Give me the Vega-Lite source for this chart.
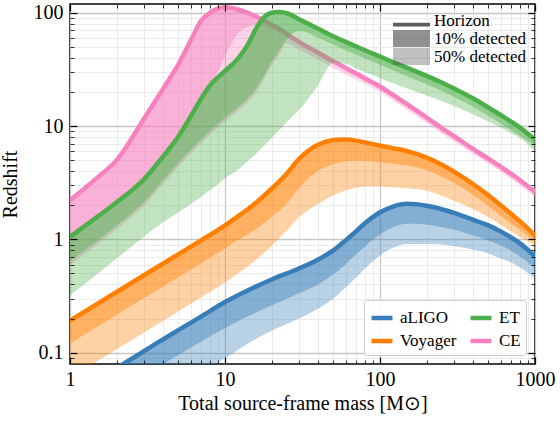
{
  "$schema": "https://vega.github.io/schema/vega-lite/v6.json",
  "width": 465,
  "height": 360,
  "autosize": {"type": "none"},
  "padding": {"left": 70, "top": 4, "right": 25, "bottom": 58},
  "background": "white",
  "config": {
    "font": "Liberation Serif",
    "view": {"stroke": "black", "strokeWidth": 1.6},
    "axis": {
      "domain": false,
      "labelFont": "Liberation Serif",
      "titleFont": "Liberation Serif",
      "labelColor": "black",
      "titleColor": "black",
      "labelFontSize": 20,
      "titleFontSize": 20,
      "titleFontWeight": "normal",
      "tickColor": "black",
      "labelFlush": false,
      "labelOverlap": false
    },
    "legend": {"labelFont": "Liberation Serif", "labelFontSize": 17, "labelColor": "black"}
  },
  "data": {
    "values": [
      {"detector": "aLIGO", "mass": 1, "z_horizon": 0.0461, "z_10": 0.0277, "z_50": 0.015},
      {"detector": "aLIGO", "mass": 1.5, "z_horizon": 0.0572, "z_10": 0.0344, "z_50": 0.0186},
      {"detector": "aLIGO", "mass": 2, "z_horizon": 0.0732, "z_10": 0.044, "z_50": 0.0239},
      {"detector": "aLIGO", "mass": 3, "z_horizon": 0.1031, "z_10": 0.062, "z_50": 0.0336},
      {"detector": "aLIGO", "mass": 4, "z_horizon": 0.1317, "z_10": 0.0792, "z_50": 0.0429},
      {"detector": "aLIGO", "mass": 5, "z_horizon": 0.1581, "z_10": 0.095, "z_50": 0.0515},
      {"detector": "aLIGO", "mass": 7, "z_horizon": 0.2083, "z_10": 0.1252, "z_50": 0.0679},
      {"detector": "aLIGO", "mass": 10, "z_horizon": 0.28, "z_10": 0.1647, "z_50": 0.0894},
      {"detector": "aLIGO", "mass": 14, "z_horizon": 0.354, "z_10": 0.2083, "z_50": 0.1201},
      {"detector": "aLIGO", "mass": 20, "z_horizon": 0.443, "z_10": 0.2606, "z_50": 0.1565},
      {"detector": "aLIGO", "mass": 30, "z_horizon": 0.554, "z_10": 0.333, "z_50": 0.2},
      {"detector": "aLIGO", "mass": 40, "z_horizon": 0.665, "z_10": 0.4, "z_50": 0.245},
      {"detector": "aLIGO", "mass": 50, "z_horizon": 0.799, "z_10": 0.49, "z_50": 0.301},
      {"detector": "aLIGO", "mass": 60, "z_horizon": 0.98, "z_10": 0.601, "z_50": 0.376},
      {"detector": "aLIGO", "mass": 70, "z_horizon": 1.177, "z_10": 0.737, "z_50": 0.461},
      {"detector": "aLIGO", "mass": 80, "z_horizon": 1.385, "z_10": 0.867, "z_50": 0.554},
      {"detector": "aLIGO", "mass": 100, "z_horizon": 1.734, "z_10": 1.107, "z_50": 0.722},
      {"detector": "aLIGO", "mass": 120, "z_horizon": 1.94, "z_10": 1.264, "z_50": 0.841},
      {"detector": "aLIGO", "mass": 150, "z_horizon": 2.062, "z_10": 1.371, "z_50": 0.912},
      {"detector": "aLIGO", "mass": 200, "z_horizon": 1.979, "z_10": 1.344, "z_50": 0.912},
      {"detector": "aLIGO", "mass": 250, "z_horizon": 1.843, "z_10": 1.277, "z_50": 0.903},
      {"detector": "aLIGO", "mass": 300, "z_horizon": 1.716, "z_10": 1.214, "z_50": 0.876},
      {"detector": "aLIGO", "mass": 400, "z_horizon": 1.488, "z_10": 1.074, "z_50": 0.808},
      {"detector": "aLIGO", "mass": 500, "z_horizon": 1.33, "z_10": 0.98, "z_50": 0.752},
      {"detector": "aLIGO", "mass": 600, "z_horizon": 1.177, "z_10": 0.885, "z_50": 0.679},
      {"detector": "aLIGO", "mass": 700, "z_horizon": 1.041, "z_10": 0.791, "z_50": 0.626},
      {"detector": "aLIGO", "mass": 800, "z_horizon": 0.922, "z_10": 0.707, "z_50": 0.565},
      {"detector": "aLIGO", "mass": 1000, "z_horizon": 0.707, "z_10": 0.554, "z_50": 0.452},

      {"detector": "Voyager", "mass": 1, "z_horizon": 0.1919, "z_10": 0.1201, "z_50": 0.0601},
      {"detector": "Voyager", "mass": 1.5, "z_horizon": 0.2698, "z_10": 0.1688, "z_50": 0.0844},
      {"detector": "Voyager", "mass": 2, "z_horizon": 0.343, "z_10": 0.2147, "z_50": 0.1074},
      {"detector": "Voyager", "mass": 3, "z_horizon": 0.4823, "z_10": 0.3017, "z_50": 0.151},
      {"detector": "Voyager", "mass": 4, "z_horizon": 0.6134, "z_10": 0.3838, "z_50": 0.1919},
      {"detector": "Voyager", "mass": 5, "z_horizon": 0.7381, "z_10": 0.462, "z_50": 0.2311},
      {"detector": "Voyager", "mass": 7, "z_horizon": 0.9798, "z_10": 0.6134, "z_50": 0.3067},
      {"detector": "Voyager", "mass": 10, "z_horizon": 1.33, "z_10": 0.8325, "z_50": 0.4164},
      {"detector": "Voyager", "mass": 12, "z_horizon": 1.582, "z_10": 0.9798, "z_50": 0.4951},
      {"detector": "Voyager", "mass": 14, "z_horizon": 1.843, "z_10": 1.107, "z_50": 0.5769},
      {"detector": "Voyager", "mass": 16, "z_horizon": 2.126, "z_10": 1.238, "z_50": 0.6653},
      {"detector": "Voyager", "mass": 18, "z_horizon": 2.452, "z_10": 1.4, "z_50": 0.7674},
      {"detector": "Voyager", "mass": 20, "z_horizon": 2.798, "z_10": 1.582, "z_50": 0.876},
      {"detector": "Voyager", "mass": 25, "z_horizon": 3.798, "z_10": 2.062, "z_50": 1.189},
      {"detector": "Voyager", "mass": 30, "z_horizon": 5.105, "z_10": 2.827, "z_50": 1.565},
      {"detector": "Voyager", "mass": 40, "z_horizon": 6.861, "z_10": 4.039, "z_50": 2.062},
      {"detector": "Voyager", "mass": 50, "z_horizon": 7.517, "z_10": 4.61, "z_50": 2.452},
      {"detector": "Voyager", "mass": 60, "z_horizon": 7.625, "z_10": 4.871, "z_50": 2.698},
      {"detector": "Voyager", "mass": 70, "z_horizon": 7.441, "z_10": 4.951, "z_50": 2.856},
      {"detector": "Voyager", "mass": 80, "z_horizon": 7.175, "z_10": 4.92, "z_50": 2.927},
      {"detector": "Voyager", "mass": 100, "z_horizon": 6.722, "z_10": 4.801, "z_50": 2.915},
      {"detector": "Voyager", "mass": 120, "z_horizon": 6.388, "z_10": 4.657, "z_50": 2.885},
      {"detector": "Voyager", "mass": 150, "z_horizon": 6.008, "z_10": 4.471, "z_50": 2.827},
      {"detector": "Voyager", "mass": 200, "z_horizon": 5.263, "z_10": 4.08, "z_50": 2.687},
      {"detector": "Voyager", "mass": 250, "z_horizon": 4.563, "z_10": 3.573, "z_50": 2.427},
      {"detector": "Voyager", "mass": 300, "z_horizon": 3.965, "z_10": 3.137, "z_50": 2.196},
      {"detector": "Voyager", "mass": 400, "z_horizon": 3.066, "z_10": 2.452, "z_50": 1.843},
      {"detector": "Voyager", "mass": 500, "z_horizon": 2.452, "z_10": 1.959, "z_50": 1.565},
      {"detector": "Voyager", "mass": 600, "z_horizon": 2.0, "z_10": 1.614, "z_50": 1.344},
      {"detector": "Voyager", "mass": 700, "z_horizon": 1.681, "z_10": 1.371, "z_50": 1.177},
      {"detector": "Voyager", "mass": 800, "z_horizon": 1.443, "z_10": 1.201, "z_50": 1.052},
      {"detector": "Voyager", "mass": 1000, "z_horizon": 1.085, "z_10": 0.96, "z_50": 0.885},

      {"detector": "ET", "mass": 1, "z_horizon": 1.052, "z_10": 0.639, "z_50": 0.319},
      {"detector": "ET", "mass": 1.5, "z_horizon": 1.582, "z_10": 0.97, "z_50": 0.495},
      {"detector": "ET", "mass": 2, "z_horizon": 2.126, "z_10": 1.317, "z_50": 0.679},
      {"detector": "ET", "mass": 3, "z_horizon": 3.396, "z_10": 2.126, "z_50": 1.063},
      {"detector": "ET", "mass": 4, "z_horizon": 5.428, "z_10": 3.327, "z_50": 1.414},
      {"detector": "ET", "mass": 5, "z_horizon": 8.075, "z_10": 4.706, "z_50": 1.734},
      {"detector": "ET", "mass": 6, "z_horizon": 12.14, "z_10": 6.133, "z_50": 2.04},
      {"detector": "ET", "mass": 7, "z_horizon": 17.34, "z_10": 7.517, "z_50": 2.377},
      {"detector": "ET", "mass": 8, "z_horizon": 22.83, "z_10": 9.032, "z_50": 2.714},
      {"detector": "ET", "mass": 9, "z_horizon": 26.87, "z_10": 10.41, "z_50": 3.066},
      {"detector": "ET", "mass": 10, "z_horizon": 30.67, "z_10": 11.77, "z_50": 3.466},
      {"detector": "ET", "mass": 12, "z_horizon": 38.77, "z_10": 14.43, "z_50": 4.08},
      {"detector": "ET", "mass": 14, "z_horizon": 52.11, "z_10": 17.34, "z_50": 4.9},
      {"detector": "ET", "mass": 16, "z_horizon": 73.67, "z_10": 21.69, "z_50": 5.768},
      {"detector": "ET", "mass": 18, "z_horizon": 92.17, "z_10": 28.27, "z_50": 6.789},
      {"detector": "ET", "mass": 20, "z_horizon": 100.0, "z_10": 36.85, "z_50": 7.832},
      {"detector": "ET", "mass": 22, "z_horizon": 101.4, "z_10": 44.4, "z_50": 8.98},
      {"detector": "ET", "mass": 25, "z_horizon": 99.0, "z_10": 57.7, "z_50": 10.85},
      {"detector": "ET", "mass": 30, "z_horizon": 87.6, "z_10": 69.3, "z_50": 13.86},
      {"detector": "ET", "mass": 40, "z_horizon": 72.2, "z_10": 60.1, "z_50": 23.06},
      {"detector": "ET", "mass": 50, "z_horizon": 61.9, "z_10": 52.1, "z_50": 36.1},
      {"detector": "ET", "mass": 60, "z_horizon": 55.4, "z_10": 46.6, "z_50": 35.38},
      {"detector": "ET", "mass": 70, "z_horizon": 50.5, "z_10": 42.5, "z_50": 32.28},
      {"detector": "ET", "mass": 80, "z_horizon": 46.6, "z_10": 39.2, "z_50": 30.06},
      {"detector": "ET", "mass": 100, "z_horizon": 41.06, "z_10": 34.7, "z_50": 26.6},
      {"detector": "ET", "mass": 120, "z_horizon": 36.85, "z_10": 31.0, "z_50": 24.02},
      {"detector": "ET", "mass": 150, "z_horizon": 32.61, "z_10": 27.4, "z_50": 21.47},
      {"detector": "ET", "mass": 200, "z_horizon": 27.7, "z_10": 23.3, "z_50": 18.62},
      {"detector": "ET", "mass": 250, "z_horizon": 24.27, "z_10": 20.4, "z_50": 16.64},
      {"detector": "ET", "mass": 300, "z_horizon": 21.47, "z_10": 18.06, "z_50": 15.03},
      {"detector": "ET", "mass": 400, "z_horizon": 17.51, "z_10": 14.73, "z_50": 12.64},
      {"detector": "ET", "mass": 500, "z_horizon": 14.58, "z_10": 12.26, "z_50": 10.96},
      {"detector": "ET", "mass": 600, "z_horizon": 12.51, "z_10": 10.52, "z_50": 9.698},
      {"detector": "ET", "mass": 700, "z_horizon": 10.96, "z_10": 9.22, "z_50": 8.674},
      {"detector": "ET", "mass": 800, "z_horizon": 9.698, "z_10": 8.16, "z_50": 7.832},
      {"detector": "ET", "mass": 1000, "z_horizon": 7.595, "z_10": 6.65, "z_50": 5.947},

      {"detector": "CE", "mass": 1, "z_horizon": 2.214, "z_10": 1.0, "z_50": 0.5949},
      {"detector": "CE", "mass": 1.5, "z_horizon": 3.51, "z_10": 1.503, "z_50": 0.9033},
      {"detector": "CE", "mass": 2, "z_horizon": 5.003, "z_10": 2.02, "z_50": 1.226},
      {"detector": "CE", "mass": 3, "z_horizon": 11.6, "z_10": 3.228, "z_50": 1.979},
      {"detector": "CE", "mass": 4, "z_horizon": 21.47, "z_10": 5.157, "z_50": 3.098},
      {"detector": "CE", "mass": 5, "z_horizon": 35.02, "z_10": 7.674, "z_50": 4.381},
      {"detector": "CE", "mass": 6, "z_horizon": 56.53, "z_10": 11.53, "z_50": 5.708},
      {"detector": "CE", "mass": 7, "z_horizon": 84.97, "z_10": 16.48, "z_50": 7.0},
      {"detector": "CE", "mass": 8, "z_horizon": 100.0, "z_10": 21.69, "z_50": 8.411},
      {"detector": "CE", "mass": 9, "z_horizon": 108.5, "z_10": 30.06, "z_50": 9.698},
      {"detector": "CE", "mass": 10, "z_horizon": 111.9, "z_10": 40.8, "z_50": 10.96},
      {"detector": "CE", "mass": 12, "z_horizon": 107.4, "z_10": 63.87, "z_50": 13.44},
      {"detector": "CE", "mass": 14, "z_horizon": 100.0, "z_10": 75.17, "z_50": 16.14},
      {"detector": "CE", "mass": 16, "z_horizon": 92.17, "z_10": 77.5, "z_50": 20.2},
      {"detector": "CE", "mass": 18, "z_horizon": 84.97, "z_10": 75.17, "z_50": 26.33},
      {"detector": "CE", "mass": 20, "z_horizon": 78.32, "z_10": 71.45, "z_50": 34.3},
      {"detector": "CE", "mass": 22, "z_horizon": 72.9, "z_10": 67.9, "z_50": 41.39},
      {"detector": "CE", "mass": 25, "z_horizon": 65.2, "z_10": 60.1, "z_50": 53.19},
      {"detector": "CE", "mass": 30, "z_horizon": 55.4, "z_10": 52.1, "z_50": 47.06},
      {"detector": "CE", "mass": 40, "z_horizon": 44.3, "z_10": 42.06, "z_50": 38.38},
      {"detector": "CE", "mass": 50, "z_horizon": 37.23, "z_10": 35.38, "z_50": 32.61},
      {"detector": "CE", "mass": 60, "z_horizon": 32.61, "z_10": 30.98, "z_50": 28.85},
      {"detector": "CE", "mass": 70, "z_horizon": 29.15, "z_10": 27.7, "z_50": 25.79},
      {"detector": "CE", "mass": 80, "z_horizon": 26.33, "z_10": 25.02, "z_50": 23.53},
      {"detector": "CE", "mass": 100, "z_horizon": 22.36, "z_10": 21.26, "z_50": 20.0},
      {"detector": "CE", "mass": 120, "z_horizon": 19.0, "z_10": 18.06, "z_50": 16.99},
      {"detector": "CE", "mass": 150, "z_horizon": 15.5, "z_10": 14.73, "z_50": 13.86},
      {"detector": "CE", "mass": 200, "z_horizon": 11.89, "z_10": 11.3, "z_50": 10.63},
      {"detector": "CE", "mass": 250, "z_horizon": 9.6, "z_10": 9.124, "z_50": 8.583},
      {"detector": "CE", "mass": 300, "z_horizon": 8.157, "z_10": 7.752, "z_50": 7.293},
      {"detector": "CE", "mass": 400, "z_horizon": 6.259, "z_10": 5.947, "z_50": 5.651},
      {"detector": "CE", "mass": 500, "z_horizon": 5.157, "z_10": 4.9, "z_50": 4.657},
      {"detector": "CE", "mass": 600, "z_horizon": 4.381, "z_10": 4.164, "z_50": 3.957},
      {"detector": "CE", "mass": 700, "z_horizon": 3.798, "z_10": 3.61, "z_50": 3.43},
      {"detector": "CE", "mass": 800, "z_horizon": 3.327, "z_10": 3.162, "z_50": 3.006},
      {"detector": "CE", "mass": 1000, "z_horizon": 2.633, "z_10": 2.501, "z_50": 2.353}
    ]
  },
  "encoding": {
    "color": {
      "field": "detector",
      "type": "nominal",
      "scale": {
        "domain": ["aLIGO", "Voyager", "ET", "CE"],
        "range": ["#377eb8", "#ff7f00", "#4daf4a", "#f781bf"]
      },
      "legend": {
        "orient": "bottom-right",
        "offset": 9,
        "title": null,
        "columns": 2,
        "symbolType": "stroke",
        "symbolSize": 441,
        "symbolStrokeWidth": 4.5,
        "symbolOpacity": 1,
        "labelFontSize": 17,
        "labelOffset": 5,
        "columnPadding": 4,
        "rowPadding": 1,
        "padding": 5,
        "fillColor": "rgba(255,255,255,0.85)",
        "strokeColor": "#cccccc",
        "cornerRadius": 3,
        "encode": {
          "symbols": {
            "update": {
              "stroke": {"signal": "scale('color', datum.value)"},
              "strokeWidth": {"value": 4.5},
              "opacity": {"value": 1},
              "strokeOpacity": {"value": 1},
              "size": {"value": 441}
            }
          }
        }
      }
    }
  },
  "resolve": {"axis": {"x": "independent", "y": "independent"}},
  "layer": [
    {
      "transform": [{"filter": {"field": "detector", "equal": "CE"}}],
      "mark": {"type": "area", "interpolate": "monotone", "clip": true, "fillOpacity": 0.35},
      "encoding": {
        "x": {
          "field": "mass", "type": "quantitative",
          "scale": {"type": "log", "domain": [1, 1000], "nice": false},
          "axis": {
            "orient": "bottom", "values": [1, 10, 100, 1000], "format": "~g",
            "ticks": false, "grid": true, "gridColor": "#c6c6c6", "gridWidth": 1.3,
            "labelPadding": 5, "title": "Total source-frame mass [M⊙]", "titlePadding": 4
          }
        },
        "y": {
          "field": "z_50", "type": "quantitative",
          "scale": {"type": "log", "domain": [0.0795, 119.4], "nice": false},
          "axis": {
            "orient": "left", "values": [0.1, 1, 10, 100], "format": "~g",
            "ticks": false, "grid": true, "gridColor": "#c6c6c6", "gridWidth": 1.3,
            "labelPadding": 7, "title": "Redshift", "titlePadding": 13
          }
        },
        "y2": {"field": "z_10"}
      }
    },
    {
      "transform": [{"filter": {"field": "detector", "equal": "CE"}}],
      "mark": {"type": "area", "interpolate": "monotone", "clip": true, "fillOpacity": 0.62},
      "encoding": {
        "x": {
          "field": "mass", "type": "quantitative",
          "axis": {
            "orient": "bottom", "values": [2, 3, 4, 5, 6, 7, 8, 9, 20, 30, 40, 50, 60, 70, 80, 90, 200, 300, 400, 500, 600, 700, 800, 900],
            "labels": false, "ticks": false,
            "grid": true, "gridColor": "#e6e6e6", "gridWidth": 0.8, "title": null
          }
        },
        "y": {
          "field": "z_10", "type": "quantitative",
          "axis": {
            "orient": "left", "values": [0.09, 0.2, 0.3, 0.4, 0.5, 0.6, 0.7, 0.8, 0.9, 2, 3, 4, 5, 6, 7, 8, 9, 20, 30, 40, 50, 60, 70, 80, 90],
            "labels": false, "ticks": false,
            "grid": true, "gridColor": "#e6e6e6", "gridWidth": 0.8, "title": null
          }
        },
        "y2": {"field": "z_horizon"}
      }
    },
    {
      "transform": [{"filter": {"field": "detector", "equal": "CE"}}],
      "mark": {"type": "line", "interpolate": "monotone", "clip": true, "strokeWidth": 4.5, "strokeCap": "butt", "opacity": 1},
      "encoding": {
        "x": {
          "field": "mass", "type": "quantitative",
          "axis": {
            "orient": "bottom", "values": [1, 10, 100, 1000], "labels": false,
            "ticks": true, "tickSize": -7, "tickWidth": 1.2, "grid": false, "title": null, "zindex": 1
          }
        },
        "y": {
          "field": "z_horizon", "type": "quantitative",
          "axis": {
            "orient": "left", "values": [0.1, 1, 10, 100], "labels": false,
            "ticks": true, "tickSize": -7, "tickWidth": 1.2, "grid": false, "title": null, "zindex": 1
          }
        }
      }
    },
    {
      "transform": [{"filter": {"field": "detector", "equal": "ET"}}],
      "mark": {"type": "area", "interpolate": "monotone", "clip": true, "fillOpacity": 0.35},
      "encoding": {
        "x": {
          "field": "mass", "type": "quantitative",
          "axis": {
            "orient": "top", "values": [1, 10, 100, 1000], "labels": false,
            "ticks": true, "tickSize": -7, "tickWidth": 1.2, "grid": false, "title": null, "zindex": 1
          }
        },
        "y": {
          "field": "z_50", "type": "quantitative",
          "axis": {
            "orient": "right", "values": [0.1, 1, 10, 100], "labels": false,
            "ticks": true, "tickSize": -7, "tickWidth": 1.2, "grid": false, "title": null, "zindex": 1
          }
        },
        "y2": {"field": "z_10"}
      }
    },
    {
      "transform": [{"filter": {"field": "detector", "equal": "ET"}}],
      "mark": {"type": "area", "interpolate": "monotone", "clip": true, "fillOpacity": 0.62},
      "encoding": {
        "x": {
          "field": "mass", "type": "quantitative",
          "axis": {
            "orient": "top", "values": [2, 3, 4, 5, 6, 7, 8, 9, 20, 30, 40, 50, 60, 70, 80, 90, 200, 300, 400, 500, 600, 700, 800, 900],
            "labels": false, "ticks": true, "tickSize": -4, "tickWidth": 0.8, "grid": false, "title": null, "zindex": 1
          }
        },
        "y": {
          "field": "z_10", "type": "quantitative",
          "axis": {
            "orient": "right", "values": [0.09, 0.2, 0.3, 0.4, 0.5, 0.6, 0.7, 0.8, 0.9, 2, 3, 4, 5, 6, 7, 8, 9, 20, 30, 40, 50, 60, 70, 80, 90],
            "labels": false, "ticks": true, "tickSize": -4, "tickWidth": 0.8, "grid": false, "title": null, "zindex": 1
          }
        },
        "y2": {"field": "z_horizon"}
      }
    },
    {
      "transform": [{"filter": {"field": "detector", "equal": "ET"}}],
      "mark": {"type": "line", "interpolate": "monotone", "clip": true, "strokeWidth": 4.5, "strokeCap": "butt", "opacity": 1},
      "encoding": {
        "x": {
          "field": "mass", "type": "quantitative",
          "axis": {
            "orient": "bottom", "values": [2, 3, 4, 5, 6, 7, 8, 9, 20, 30, 40, 50, 60, 70, 80, 90, 200, 300, 400, 500, 600, 700, 800, 900],
            "labels": false, "ticks": true, "tickSize": -4, "tickWidth": 0.8, "grid": false, "title": null, "zindex": 1
          }
        },
        "y": {
          "field": "z_horizon", "type": "quantitative",
          "axis": {
            "orient": "left", "values": [0.09, 0.2, 0.3, 0.4, 0.5, 0.6, 0.7, 0.8, 0.9, 2, 3, 4, 5, 6, 7, 8, 9, 20, 30, 40, 50, 60, 70, 80, 90],
            "labels": false, "ticks": true, "tickSize": -4, "tickWidth": 0.8, "grid": false, "title": null, "zindex": 1
          }
        }
      }
    },
    {
      "transform": [{"filter": {"field": "detector", "equal": "Voyager"}}],
      "mark": {"type": "area", "interpolate": "monotone", "clip": true, "fillOpacity": 0.35},
      "encoding": {
        "x": {"field": "mass", "type": "quantitative", "axis": null},
        "y": {"field": "z_50", "type": "quantitative", "axis": null},
        "y2": {"field": "z_10"}
      }
    },
    {
      "transform": [{"filter": {"field": "detector", "equal": "Voyager"}}],
      "mark": {"type": "area", "interpolate": "monotone", "clip": true, "fillOpacity": 0.62},
      "encoding": {
        "x": {"field": "mass", "type": "quantitative", "axis": null},
        "y": {"field": "z_10", "type": "quantitative", "axis": null},
        "y2": {"field": "z_horizon"}
      }
    },
    {
      "transform": [{"filter": {"field": "detector", "equal": "Voyager"}}],
      "mark": {"type": "line", "interpolate": "monotone", "clip": true, "strokeWidth": 4.5, "strokeCap": "butt", "opacity": 1},
      "encoding": {
        "x": {"field": "mass", "type": "quantitative", "axis": null},
        "y": {"field": "z_horizon", "type": "quantitative", "axis": null}
      }
    },
    {
      "transform": [{"filter": {"field": "detector", "equal": "aLIGO"}}],
      "mark": {"type": "area", "interpolate": "monotone", "clip": true, "fillOpacity": 0.35},
      "encoding": {
        "x": {"field": "mass", "type": "quantitative", "axis": null},
        "y": {"field": "z_50", "type": "quantitative", "axis": null},
        "y2": {"field": "z_10"}
      }
    },
    {
      "transform": [{"filter": {"field": "detector", "equal": "aLIGO"}}],
      "mark": {"type": "area", "interpolate": "monotone", "clip": true, "fillOpacity": 0.62},
      "encoding": {
        "x": {"field": "mass", "type": "quantitative", "axis": null},
        "y": {"field": "z_10", "type": "quantitative", "axis": null},
        "y2": {"field": "z_horizon"}
      }
    },
    {
      "transform": [{"filter": {"field": "detector", "equal": "aLIGO"}}],
      "mark": {"type": "line", "interpolate": "monotone", "clip": true, "strokeWidth": 4.5, "strokeCap": "butt", "opacity": 1},
      "encoding": {
        "x": {"field": "mass", "type": "quantitative", "axis": null},
        "y": {"field": "z_horizon", "type": "quantitative", "axis": null}
      }
    },
    {
      "transform": [{"fold": ["z_horizon", "z_10", "z_50"], "as": ["band", "z"]}],
      "mark": {"type": "point", "filled": true, "size": 0, "clip": true},
      "encoding": {
        "x": {"field": "mass", "type": "quantitative", "axis": null},
        "y": {"field": "z", "type": "quantitative", "axis": null},
        "color": {"value": "#4d4d4d"},
        "shape": {
          "field": "band", "type": "nominal",
          "scale": {
            "domain": ["z_horizon", "z_10", "z_50"],
            "range": ["M-3.35,0.25H1V0.72H-3.35Z", "M-3.35,-1H1V1H-3.35Z", "M-3.35,-1H1V1H-3.35Z"]
          },
          "legend": {
            "orient": "top-right",
            "offset": 8,
            "title": null,
            "padding": 0,
            "symbolSize": 289,
            "symbolFillColor": "#4d4d4d",
            "symbolStrokeColor": "transparent",
            "symbolStrokeWidth": 0,
            "labelFontSize": 17,
            "labelOffset": 4,
            "rowPadding": 0,
            "labelExpr": "datum.value === 'z_horizon' ? 'Horizon' : datum.value === 'z_10' ? '10% detected' : '50% detected'",
            "encode": {
              "symbols": {
                "update": {
                  "fill": {"value": "#4d4d4d"},
                  "stroke": {"value": "transparent"},
                  "size": {"value": 289},
                  "fillOpacity": {"value": 1}
                }
              }
            }
          }
        },
        "opacity": {
          "field": "band", "type": "nominal",
          "scale": {"type": "ordinal", "domain": ["z_horizon", "z_10", "z_50"], "range": [0.9, 0.62, 0.35]}
        }
      }
    }
  ]
}
